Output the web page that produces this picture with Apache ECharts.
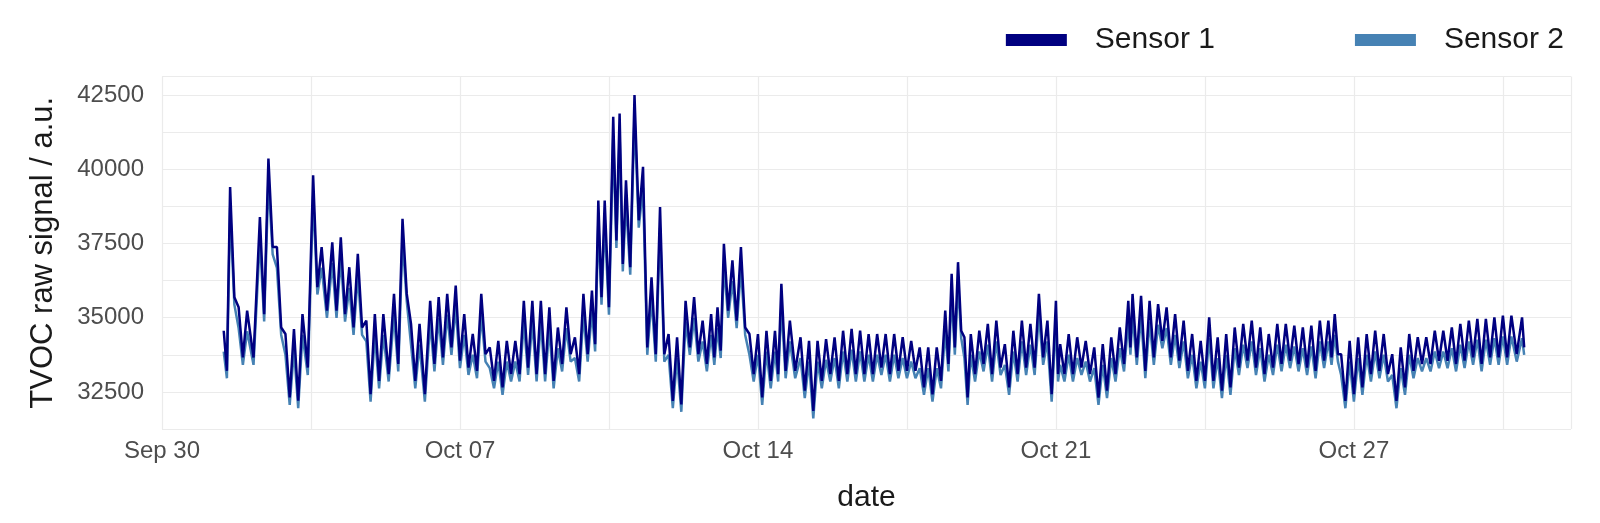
<!DOCTYPE html>
<html><head><meta charset="utf-8">
<script src="https://cdn.jsdelivr.net/npm/echarts@6/dist/echarts.min.js"></script>
<style>html,body{margin:0;background:#fff}#c{width:1600px;height:523px}</style>
</head><body><div id="c"></div>
<script>
// days since Sep 30 00:00
const days = [1.45,1.6,1.8,2.0,2.3,2.5,2.7,2.9,3.1,3.3,3.55,3.75,4.0,4.2,4.4,4.6,4.8,5.0,5.2,5.45,5.65,5.85,6.05,6.3,6.5,6.7,6.9,7.1,7.3,7.5,7.7,7.9,8.1,8.3,8.5,8.7,8.9,9.1,9.3,9.5,9.7,9.9,10.1,10.25,10.4,10.6,10.75,10.9,11.1,
11.3,11.5,11.7,11.9,12.1,12.3,12.5,12.7,12.9,13.05,13.2,13.4,13.6,13.8,14.0,14.2,14.4,14.55,14.75,15.0,15.2,15.4,15.6,15.8,16.0,16.2,16.4,16.6,16.8,17.0,17.2,17.4,17.6,17.8,18.0,18.2,18.4,18.55,18.7,18.85,19.0,19.2,19.4,19.6,19.8,20.0,20.2,20.4,20.6,20.8,21.0,
21.1,21.3,21.5,21.7,21.9,22.1,22.3,22.5,22.7,22.8,23.0,23.2,23.4,23.6,23.8,24.0,24.2,24.4,24.6,24.8,25.0,25.2,25.4,25.6,25.8,26.0,26.2,26.4,26.6,26.8,27.0,27.2,27.4,27.55,27.7,27.9,28.1,28.3,28.5,28.7,28.9,29.1,29.3,29.5,29.7,29.9,30.1,30.3,30.5,30.7,30.9,31.1,31.3,31.5,31.7,31.95];
const s1High = [34560,39400,35350,35240,38390,40360,37380,34450,34620,35120,39800,37380,37540,37710,36700,37150,34900,35120,35120,35800,38330,34790,34790,35570,35690,35800,36080,35120,34450,35800,34000,34220,34220,34220,35570,35570,35570,35350,34670,35350,34340,35800,35910,38950,38950,41770,41880,39630,42500,
40080,36360,38730,34450,34340,35570,35690,34900,35120,35350,37490,36930,37380,34450,34450,34560,34560,36140,34900,34340,34220,34220,34280,34340,34560,34620,34560,34450,34450,34450,34450,34340,34220,34000,34000,34000,35240,36480,36870,34340,34450,34560,34790,34900,34110,34560,34900,34790,35800,34900,35570,
34110,34450,34340,34220,34000,34110,34340,34670,35570,35800,35740,35570,35460,35350,35120,34900,34450,34220,35010,34340,34450,34670,34790,34900,34670,34450,34790,34790,34730,34670,34730,34900,34900,35120,33770,34220,34340,34450,34560,34450,33770,34000,34450,34340,34340,34560,34560,34670,34790,34900,34960,34960,35010,35070,35070,35010];
const s1Low = [33210,35690,33660,33660,35120,37380,34670,32310,32200,33320,36030,35240,35240,35120,34670,34670,32420,32870,33100,33440,35800,32870,32420,33440,33660,34000,33550,33320,33210,33770,32870,32650,33100,33100,33320,33100,33100,32870,33440,33770,33100,33770,34110,35690,35350,37600,36810,36700,38280,
34000,33770,33770,32200,32080,34000,33770,33440,33660,33890,35240,34900,34670,33100,32310,32870,33100,33210,33210,32540,31860,32870,33100,32870,33100,33100,33100,33100,33320,33100,33210,33210,33210,32650,32420,32870,33440,34000,34560,32310,33100,33440,33100,33320,32650,33100,33320,33320,33660,32420,33100,
33100,33100,33320,33100,32310,32540,33100,33440,34000,33660,33210,33660,34220,33660,33550,33210,32870,32870,32870,32540,32650,33320,33550,33320,33100,33320,33440,33550,33440,33320,33210,33550,33660,33770,32200,32420,32650,33100,33210,33100,32200,32650,33210,33440,33440,33550,33550,33440,33550,33660,33440,33660,33660,33660,33770,34000];
const s2High = [33860,38700,34650,34540,37690,39660,36680,33750,33920,34420,39100,36680,36840,37010,36000,36450,34200,34420,34420,35100,37630,34090,34090,34870,34990,35100,35380,34420,33750,35100,33300,33520,33520,33520,34870,34870,34870,34650,33970,34650,33640,35100,35210,38250,38250,41070,41180,38930,41800,
39380,35660,38030,33750,33640,34870,34990,34200,34420,34650,36790,36230,36680,33750,33750,33860,33860,35440,34200,33640,33520,33520,33580,33640,33860,33920,33860,33750,33750,33750,33750,33640,33520,33300,33300,33300,34540,35780,36170,33640,33750,33860,34090,34200,33410,33860,34200,34090,35100,34200,34870,
33410,33750,33640,33520,33300,33410,33640,33970,34870,35100,35040,34870,34760,34650,34420,34200,33750,33520,34310,33640,33750,33970,34090,34200,33970,33750,34090,34090,34030,33970,34030,34200,34200,34420,33070,33520,33640,33750,33860,33750,33070,33300,33750,33640,33640,33860,33860,33970,34090,34200,34260,34260,34310,34370,34370,34310];
const s2Low = [32960,35440,33410,33410,34870,37130,34420,32060,31950,33070,35780,34990,34990,34870,34420,34420,32170,32620,32850,33190,35550,32620,32170,33190,33410,33750,33300,33070,32960,33520,32620,32400,32850,32850,33070,32850,32850,32620,33190,33520,32850,33520,33860,35440,35100,37350,36560,36450,38030,
33750,33520,33520,31950,31830,33750,33520,33190,33410,33640,34990,34650,34420,32850,32060,32620,32850,32960,32960,32290,31610,32620,32850,32620,32850,32850,32850,32850,33070,32850,32960,32960,32960,32400,32170,32620,33190,33750,34310,32060,32850,33190,32850,33070,32400,32850,33070,33070,33410,32170,32850,
32850,32850,33070,32850,32060,32290,32850,33190,33750,33410,32960,33410,33970,33410,33300,32960,32620,32620,32620,32290,32400,33070,33300,33070,32850,33070,33190,33300,33190,33070,32960,33300,33410,33520,31950,32170,32400,32850,32960,32850,31950,32400,32960,33190,33190,33300,33300,33190,33300,33410,33190,33410,33410,33410,33520,33750];
const xTickLabels = {0:'Sep 30',7:'Oct 07',14:'Oct 14',21:'Oct 21',28:'Oct 27'};
const yTickLabels = [32500,35000,37500,40000,42500];

function zig(hi, lo){
  const out=[];
  for(let i=0;i<days.length;i++){
    const next = i<days.length-1 ? days[i+1] : days[i]+0.1;
    out.push([days[i], hi[i]]);
    out.push([(days[i]+next)/2, lo[i]]);
  }
  return out;
}
const chart = echarts.init(document.getElementById('c'));
const gl = {show:true,lineStyle:{color:'#ebebeb',width:1.2}};
const F = 'Liberation Sans, Arial';
chart.setOption({
  animation:false,
  grid:{left:162,right:29,top:76.5,bottom:94},
  legend:{top:20,right:31,itemWidth:61,itemHeight:12,itemGap:140,
    textStyle:{fontSize:30,color:'#1a1a1a',fontFamily:F,padding:[0,0,0,23]},
    data:[{name:'Sensor 1',icon:'rect'},{name:'Sensor 2',icon:'rect'}]},
  xAxis:{type:'value',min:0,max:33.1,interval:3.5,name:'date',nameLocation:'middle',nameGap:54,
    nameTextStyle:{fontSize:30,color:'#1a1a1a',fontFamily:F},
    axisLine:{show:false},axisTick:{show:false},splitLine:gl,
    axisLabel:{fontSize:24,color:'#4d4d4d',margin:10,fontFamily:F,
      formatter:v=>xTickLabels[v]||''}},
  yAxis:{type:'value',min:31250,max:43125,interval:1250,name:'TVOC raw signal / a.u.',nameLocation:'middle',nameGap:103,
    nameTextStyle:{fontSize:31,color:'#1a1a1a',fontFamily:F},
    axisLine:{show:false},axisTick:{show:false},splitLine:gl,
    axisLabel:{fontSize:24,color:'#4d4d4d',margin:18,fontFamily:F,
      formatter:v=>yTickLabels.includes(v)?String(v):''}},
  series:[
    {name:'Sensor 2',type:'line',data:zig(s2High,s2Low),showSymbol:false,lineStyle:{color:'#4682B4',width:2.5},itemStyle:{color:'#4682B4'},z:2},
    {name:'Sensor 1',type:'line',data:zig(s1High,s1Low),showSymbol:false,lineStyle:{color:'#000080',width:2.5},itemStyle:{color:'#000080'},z:3}
  ]
});
</script></body></html>
